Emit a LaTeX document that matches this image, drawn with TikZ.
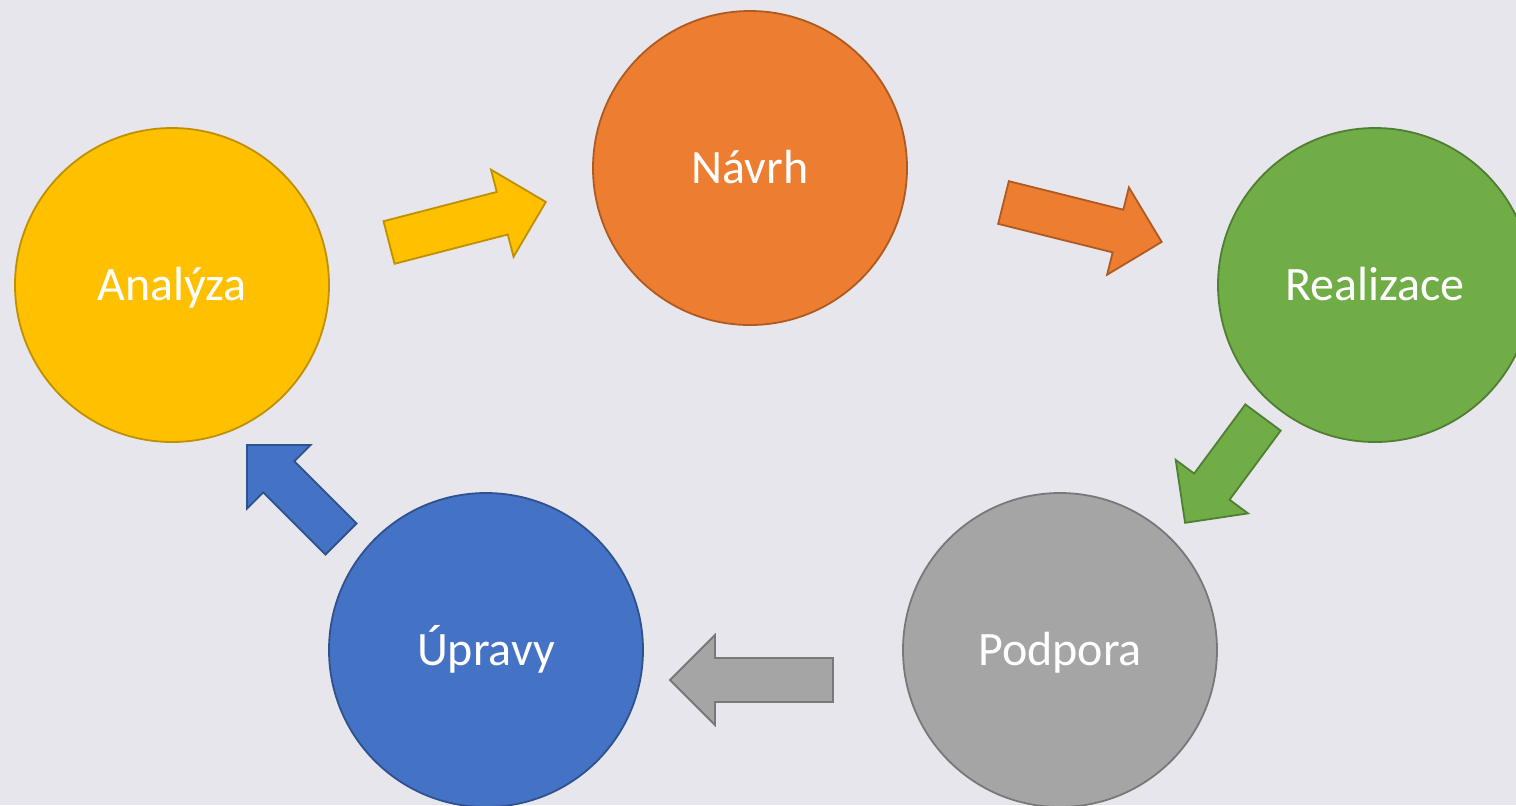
\documentclass[tikz,border=0pt]{standalone}
\usepackage{fontspec}
\setmainfont{Carlito}
\definecolor{bg}{RGB}{231,230,236}
\definecolor{yel}{HTML}{FFC000}\definecolor{yelD}{HTML}{BF9000}
\definecolor{ora}{HTML}{ED7D31}\definecolor{oraD}{HTML}{AE5A21}
\definecolor{grn}{HTML}{70AD47}\definecolor{grnD}{HTML}{507E32}
\definecolor{gry}{HTML}{A5A5A5}\definecolor{gryD}{HTML}{787878}
\definecolor{blu}{HTML}{4472C4}\definecolor{bluD}{HTML}{2F528F}
\tikzset{
	phase/.style={circle, minimum size=157pt, inner sep=0pt, line width=0.9pt, text=white,
		text height=20pt, text depth=5pt, font=\fontsize{24}{28}\selectfont},
	pics/blokarrow/.style={code={
		\draw[pic actions] (0,-22)--({#1-45},-22)--({#1-45},-45)--(#1,0)
			--({#1-45},45)--({#1-45},22)--(0,22)--cycle;
	}}
}
\begin{document}
\begin{tikzpicture}[x=0.5pt, y=-0.5pt, line join=miter, line width=0.9pt]
		\fill[bg] (0,0) rectangle (1516,805);
		\useasboundingbox (0,0) rectangle (1516,805);
		\path 
			(172,285) node[phase, fill=yel, draw=yelD] (analyza) {Analýza}
			(750,168) node[phase, fill=ora, draw=oraD] (navrh) {Návrh}
			(1375,285) node[phase, fill=grn, draw=grnD] (realizace) {Realizace}
			(1060,650) node[phase, fill=gry, draw=gryD] (podpora) {Podpora}
			(486,650) node[phase, fill=blu, draw=bluD] (upravy) {Úpravy}
		;
		\foreach \p/\a/\l/\c in {{(389,242.5)}/14.5/162/yel, {(1003.5,202.5)}/-14/163/ora,
			{(1263,417.5)}/-126.5/131/grn, {(833,680)}/180/163/gry, {(341,539)}/135/133/blu}{
			\pic[fill=\c, draw=\c D, rotate=\a] at \p {blokarrow=\l};
		}
		\end{tikzpicture}
\end{document}
